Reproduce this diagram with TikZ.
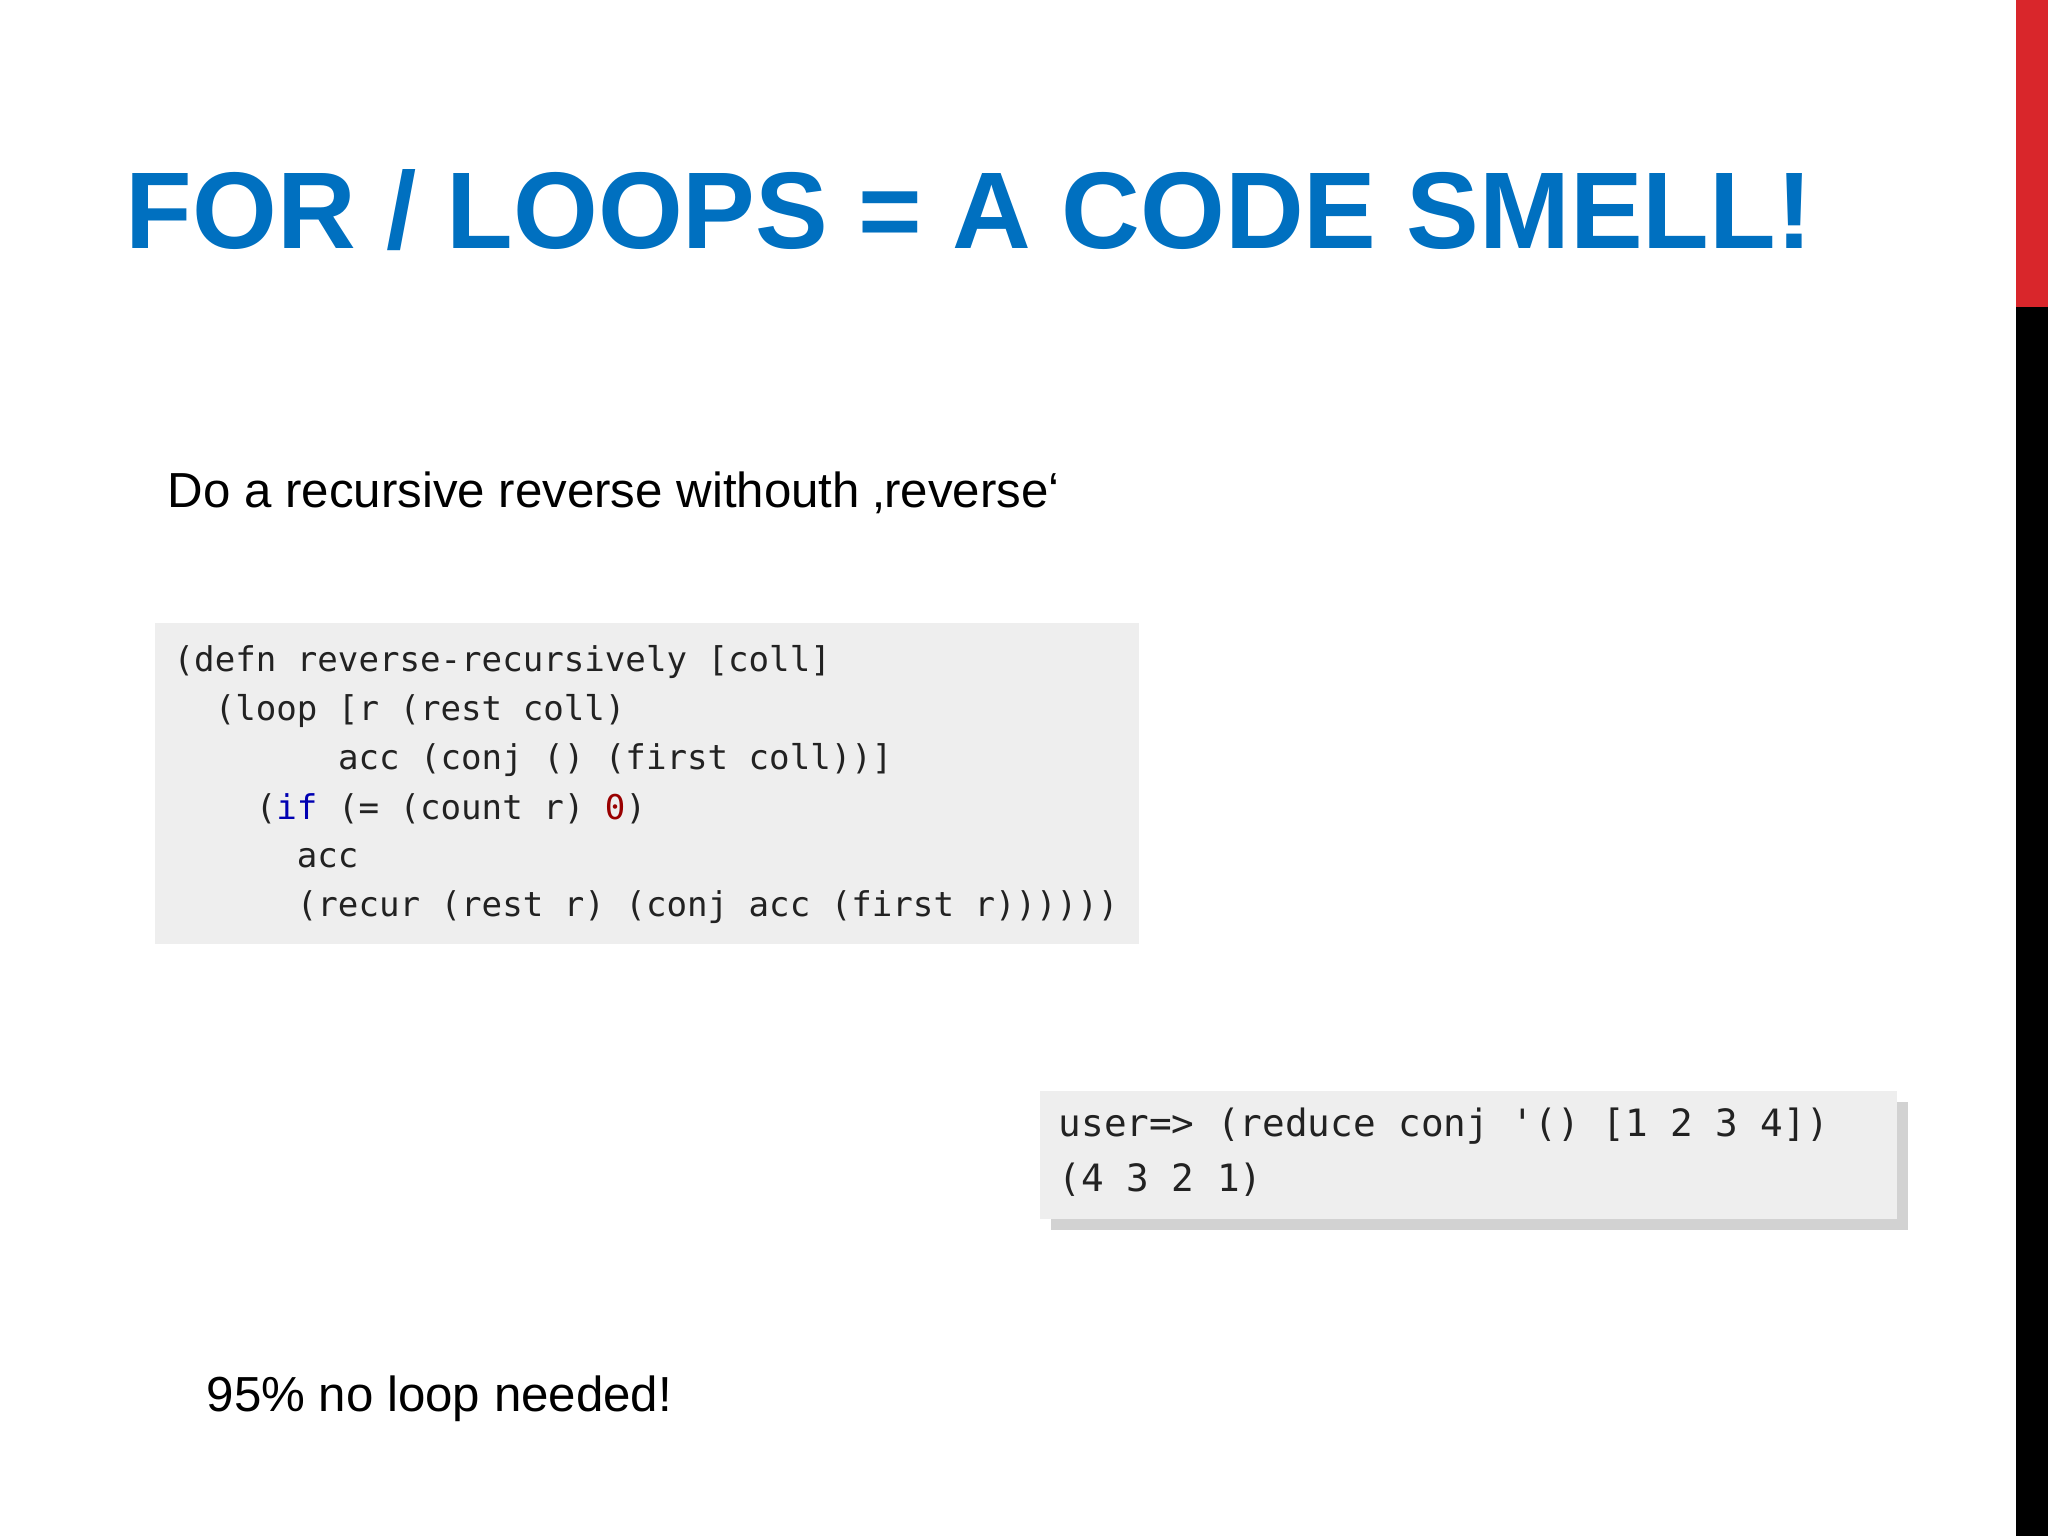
\documentclass[tikz,border=0pt]{standalone}
\usepackage{fontspec}
\setmainfont{Liberation Sans}
\setmonofont{DejaVu Sans Mono}
\usetikzlibrary{shadows}
\definecolor{titleblue}{HTML}{0070C0}
\definecolor{codebg}{HTML}{EEEEEE}
\definecolor{codefg}{HTML}{222222}
\definecolor{barred}{HTML}{D9262B}
\begin{document}
\begin{tikzpicture}[x=0.01cm,y=-0.01cm,
  codeline/.style={anchor=west,inner sep=0,font=\fontsize{9.7}{11}\selectfont\ttfamily,text=codefg},
  codeline2/.style={anchor=west,inner sep=0,font=\fontsize{10.7}{12}\selectfont\ttfamily,text=codefg}]
\useasboundingbox (0,0) rectangle (2048,1536);
\fill[white] (0,0) rectangle (2048,1536);
\fill[barred] (2016,0) rectangle (2048,307);
\fill[black] (2016,307) rectangle (2048,1536);
\node[anchor=base west,inner sep=0,text=titleblue,font=\fontsize{31}{34}\selectfont\bfseries] (title) at (125,248) {FOR / LOOPS = A CODE SMELL!};
\node[anchor=base west,inner sep=0,font=\fontsize{14}{16}\selectfont] (sub) at (167,507) {Do a recursive reverse withouth ‚reverse‘};
\fill[codebg] (155,623) rectangle (1139,944);
\node[codeline] (l1) at (173,662) {(defn reverse-recursively [coll]};
\node[codeline] (l2) at (173,711) {\ \ (loop [r (rest coll)};
\node[codeline] (l3) at (173,760) {\ \ \ \ \ \ \ \ acc (conj () (first coll))]};
\node[codeline] (l4) at (173,809) {\ \ \ \ (\textcolor{blue!70!black}{if} (= (count r) \textcolor{red!60!black}{0})};
\node[codeline] (l5) at (173,858) {\ \ \ \ \ \ acc};
\node[codeline] (l6) at (173,907) {\ \ \ \ \ \ (recur (rest r) (conj acc (first r))))))};
\fill[codebg,drop shadow={shadow xshift=3pt,shadow yshift=-3pt,opacity=0.35}] (1040,1091) rectangle (1897,1219);
\node[codeline2] (r1) at (1058,1126) {user=> (reduce conj '() [1 2 3 4])};
\node[codeline2] (r2) at (1058,1180) {(4 3 2 1)};
\node[anchor=base west,inner sep=0,font=\fontsize{14}{16}\selectfont] (foot) at (206,1411) {95\% no loop needed!};
\end{tikzpicture}
\end{document}
